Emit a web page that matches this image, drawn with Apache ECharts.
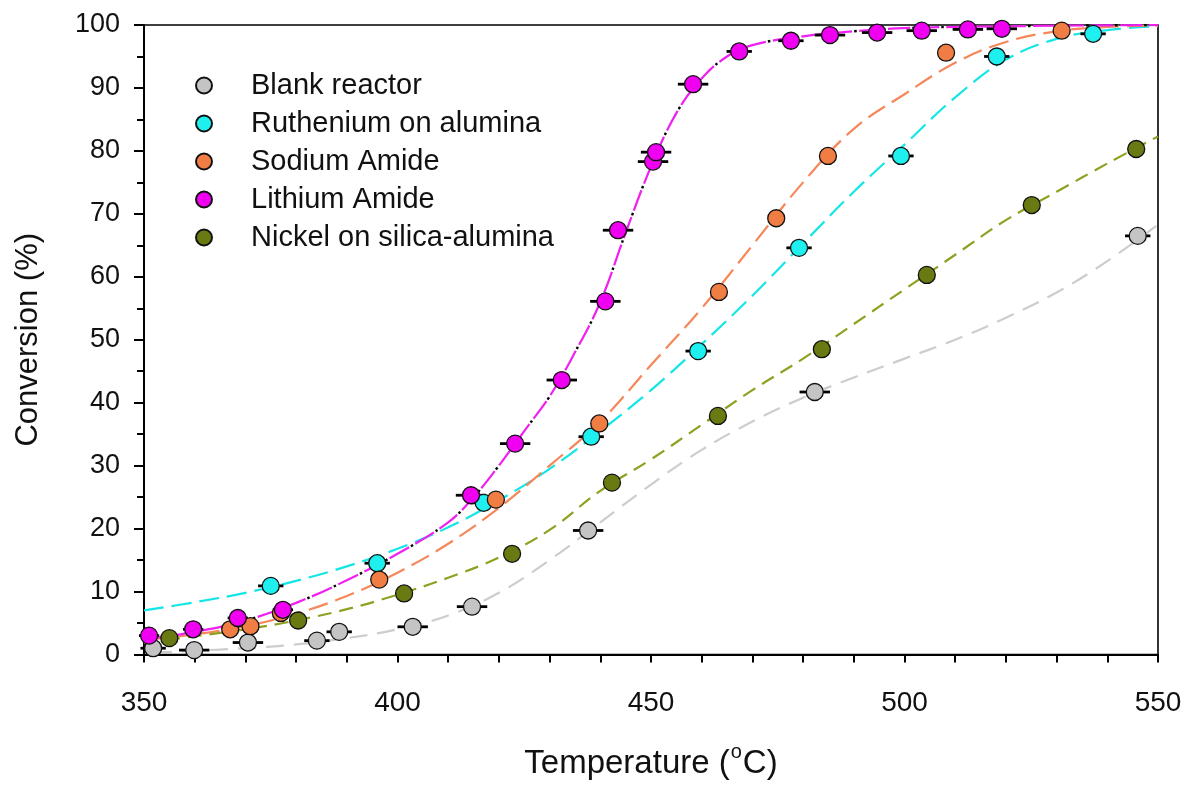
<!DOCTYPE html>
<html><head><meta charset="utf-8">
<script src="https://cdn.jsdelivr.net/npm/echarts@6/dist/echarts.min.js"></script>
<style>html,body{margin:0;padding:0;background:#fff}#c{width:1192px;height:785px}</style>
</head><body><div id="c"></div>
<script>
// ---- measured points [temperature °C, conversion %] ----
const blankPts = [[351.8,1.0],[359.9,0.7],[370.5,1.9],[384.1,2.2],[388.5,3.6],[403,4.4],[414.7,7.6],[437.6,19.7],[482.3,41.7],[546,66.5]];
const rutheniumPts = [[375,10.9],[396,14.5],[417,24.1],[438.2,34.6],[459.3,48.2],[479.2,64.6],[499.3,79.2],[518.2,95.0],[537.2,98.6]];
const sodiumPts = [[367,4.0],[371,4.5],[377,6.6],[396.4,11.9],[419.4,24.6],[439.8,36.7],[463.4,57.6],[474.7,69.3],[484.9,79.2],[508.2,95.6],[531,99.1]];
const lithiumPts = [[351,3.0],[359.7,4.0],[368.5,5.8],[377.4,7.1],[414.5,25.3],[423.2,33.5],[432.4,43.6],[441,56.1],[443.5,67.4],[450.4,78.3],[451,79.8],[458.3,90.6],[467.4,95.8],[477.6,97.5],[485.3,98.4],[494.6,98.8],[503.4,99.1],[512.5,99.3],[519.2,99.4]];
const nickelPts = [[355,2.6],[380.4,5.4],[401.3,9.7],[422.6,16.0],[442.3,27.3],[463.2,37.9],[483.7,48.5],[504.4,60.3],[525.1,71.4],[545.7,80.3]];

// horizontal error (± °C) per point
const blankErr = [2.5,3,3,2.5,2.5,3,3,3,3,2.5];
const rutheniumErr = [2.5,2.5,2.5,2.5,2.5,2.5,2.5,2.5,2.5];
const sodiumErr = [1.5,1.5,1.5,1.5,1.5,1.5,1.5,1.5,1.5,1.5,1.5];
const lithiumErr = [2,2,2,2,3,3,3,3,3,3,3,3,2.5,2.5,3,3,3,3,3];
const nickelErr = [1.5,1.5,1.5,1.5,1.5,1.5,1.5,1.5,1.5,1.5];

// fitted curves
const blankFit = [[352,0.3],[360,0.6],[370,1.0],[380,1.6],[390,2.6],[400,4.0],[410,6.2],[420,9.8],[430,15],[440,21],[450,27],[460,32.5],[470,37],[480,40.8],[490,44],[500,47],[510,50],[520,53.5],[530,57.5],[540,62.5],[550,68.3]];
const rutheniumFit = [[350,7.0],[360,8.3],[370,9.8],[380,11.7],[390,14],[400,16.8],[410,20.2],[420,24.5],[430,29.5],[440,35.5],[450,42],[460,49.3],[470,57],[480,65.3],[490,73.5],[500,81],[510,88.5],[520,94.5],[530,97.8],[540,99.2],[550,99.8]];
const sodiumFit = [[350,2.3],[360,3.2],[370,4.5],[380,6.5],[390,9.3],[400,13],[410,17.6],[420,23.3],[430,30],[440,37],[450,46],[460,55],[470,65],[480,75],[490,83.5],[500,89],[510,94],[520,97.3],[530,99],[540,99.7],[550,99.9]];
const lithiumFit = [[350,2.4],[360,3.6],[370,5.4],[380,8.2],[390,11.8],[400,16],[410,21],[415,25],[420,30],[425,35.5],[430,41],[435,48],[440,56],[445,67],[450,77.5],[455,86],[460,91.5],[465,95],[470,96.8],[480,98.2],[490,99],[500,99.5],[520,99.8],[550,100]];
const nickelFit = [[350,1.8],[360,2.9],[370,4.0],[380,5.4],[390,7.2],[400,9.5],[410,12.2],[420,15.4],[430,19.8],[440,26],[450,31],[460,36.5],[470,42],[480,47],[490,52.5],[500,58],[510,63.5],[520,69],[530,73.5],[540,78],[550,82.3]];

const xTicks = {min:350, max:550, interval:50};
const yTicks = {min:0, max:100, interval:10};

const names = ['Blank reactor','Ruthenium on alumina','Sodium Amide','Lithium Amide','Nickel on silica-alumina'];
const pts = [blankPts, rutheniumPts, sodiumPts, lithiumPts, nickelPts];
const errs = [blankErr, rutheniumErr, sodiumErr, lithiumErr, nickelErr];
const fits = [blankFit, rutheniumFit, sodiumFit, lithiumFit, nickelFit];
const fillColors = ['#c4c4c4','#1ef0ef','#f07d43','#f000f0','#6a7a12'];
const lineColors = ['#cdcdcd','#14e6e6','#f5875a','#f020f0','#8fa022'];
const dashes = [[18,10],[20,8],[20,8],[22,7],[14,8]];

const FONT = 'Liberation Sans, Arial, sans-serif';
const series = [];
// fitted curves
fits.forEach((f,i)=>{
  series.push({type:'line', data:f, smooth:0.4, symbol:'none', silent:true, z:1,
    lineStyle:{color:lineColors[i], width:2.2, type:dashes[i]}});
});
// black dots in the lithium dash-dot line
series.push({type:'line', data:lithiumFit, smooth:0.4, symbol:'none', silent:true, z:2,
  lineStyle:{color:'#000', width:2.4, type:[2.5,26.5], dashOffset:-24}});
// error bars
pts.forEach((p,i)=>{
  series.push({type:'custom', z:3, silent:true,
    data:p.map((d,k)=>[d[0],d[1],errs[i][k]]),
    renderItem:(params,api)=>{
      const x=api.value(0), y=api.value(1), e=api.value(2);
      const a=api.coord([x-e,y]), b=api.coord([x+e,y]);
      return {type:'line', shape:{x1:a[0],y1:a[1],x2:b[0],y2:b[1]}, style:{stroke:'#000', lineWidth:2.8}};
    }});
});
// points
pts.forEach((p,i)=>{
  series.push({type:'scatter', name:names[i], data:p, symbol:'circle', symbolSize:17, z:5,
    itemStyle:{color:fillColors[i], borderColor:'#111', borderWidth:1.3, opacity:1}});
});

const chart = echarts.init(document.getElementById('c'), null, {renderer:'canvas'});
chart.setOption({
  animation:false,
  backgroundColor:'#fff',
  textStyle:{fontFamily:FONT},
  grid:{left:144, right:34, top:25, bottom:125, show:true, borderColor:'#000', borderWidth:1.6},
  legend:{orient:'vertical', left:190, top:66, itemWidth:16, itemHeight:16, itemGap:9,
    data:names.map(n=>({name:n, icon:'circle'})),
    textStyle:{fontSize:29, color:'#111', lineHeight:29, padding:[0,0,0,34], fontFamily:FONT}},
  xAxis:{type:'value', min:xTicks.min, max:xTicks.max, interval:xTicks.interval,
    name:'{t|Temperature (}{s|o}{t|C)}', nameLocation:'middle', nameGap:88,
    nameTextStyle:{fontFamily:FONT, rich:{t:{fontSize:33,color:'#111',fontFamily:FONT}, s:{fontSize:20,color:'#111',fontFamily:FONT, padding:[0,1,22,1]}}},
    axisLine:{lineStyle:{color:'#000', width:2}},
    axisTick:{inside:false, length:8, lineStyle:{color:'#000', width:2}},
    minorTick:{show:true, splitNumber:5, length:8, lineStyle:{color:'#000', width:2}},
    axisLabel:{fontSize:28, color:'#111', margin:35, fontFamily:FONT},
    splitLine:{show:false}},
  yAxis:{type:'value', min:yTicks.min, max:yTicks.max, interval:yTicks.interval,
    name:'Conversion (%)', nameLocation:'middle', nameGap:100, nameRotate:90,
    nameTextStyle:{fontSize:31, color:'#111', fontFamily:FONT},
    axisLine:{lineStyle:{color:'#000', width:2}},
    axisTick:{inside:false, length:10, lineStyle:{color:'#000', width:2}},
    minorTick:{show:true, splitNumber:2, length:7, lineStyle:{color:'#000', width:2}},
    axisLabel:{fontSize:27, color:'#111', margin:24, fontFamily:FONT},
    splitLine:{show:false}},
  series:series
});
</script></body></html>
